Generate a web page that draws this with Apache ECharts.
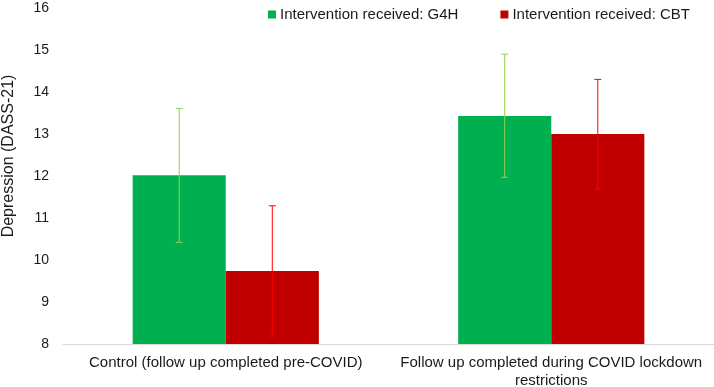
<!DOCTYPE html>
<html><head><meta charset="utf-8">
<script src="https://cdn.jsdelivr.net/npm/echarts@6/dist/echarts.min.js"></script>
<style>html,body{margin:0;padding:0;background:#fff}#c{width:714px;height:387px}</style>
</head><body><div id="c"></div>
<script>
const categories = ['Control (follow up completed pre-COVID)', 'Follow up completed during COVID lockdown\nrestrictions'];
const seriesNames = ['Intervention received: G4H', 'Intervention received: CBT'];
const g4hMean = [12.02, 13.43];
const g4hLow = [10.42, 11.97];
const g4hHigh = [13.61, 14.90];
const cbtMean = [9.74, 13.00];
const cbtLow = [8.19, 11.69];
const cbtHigh = [11.29, 14.30];
const yTicks = [8, 9, 10, 11, 12, 13, 14, 15, 16];

const BAR_FRAC = 0.286;
function errRender(side, color) {
  return function (params, api) {
    const idx = api.value(0);
    const lo = api.coord([idx, api.value(1)]);
    const hi = api.coord([idx, api.value(2)]);
    const cw = api.size([1, 0])[0];
    const x = lo[0] + side * cw * BAR_FRAC / 2;
    const cap = 3.5;
    const st = { stroke: color, lineWidth: 1 };
    return { type: 'group', children: [
      { type: 'line', shape: { x1: x, y1: lo[1], x2: x, y2: hi[1] }, style: st },
      { type: 'line', shape: { x1: x - cap, y1: lo[1], x2: x + cap, y2: lo[1] }, style: st },
      { type: 'line', shape: { x1: x - cap, y1: hi[1], x2: x + cap, y2: hi[1] }, style: st }
    ]};
  };
}

const chart = echarts.init(document.getElementById('c'));
chart.setOption({
  animation: false,
  textStyle: { fontFamily: 'Liberation Sans, Arial, sans-serif' },
  legend: {
    data: seriesNames, top: 2, left: 263, itemWidth: 8, itemHeight: 8, itemGap: 42,
    icon: 'rect', textStyle: { fontSize: 15, color: '#1a1a1a', padding: [0, 0, 0, -1] }
  },
  grid: { left: 63, right: 0, top: 8, bottom: 43, outerBoundsMode: 'none', containLabel: false },
  xAxis: {
    type: 'category', data: categories,
    axisLine: { lineStyle: { color: '#d9d9d9' } }, axisTick: { show: false },
    axisLabel: { fontSize: 15, color: '#1a1a1a', margin: 10, lineHeight: 18, interval: 0 }
  },
  yAxis: {
    type: 'value', min: yTicks[0], max: yTicks[yTicks.length - 1], interval: 1,
    name: 'Depression (DASS-21)', nameLocation: 'middle', nameGap: 46, nameRotate: 90,
    nameTextStyle: { fontSize: 16, color: '#1a1a1a', padding: [0, 0, 0, 40] },
    axisLine: { show: false }, axisTick: { show: false }, splitLine: { show: false },
    axisLabel: { fontSize: 14, color: '#1a1a1a', margin: 14 }
  },
  series: [
    { name: seriesNames[0], type: 'bar', data: g4hMean, barWidth: (BAR_FRAC * 100) + '%', barGap: '0%', itemStyle: { color: '#00b050' } },
    { name: seriesNames[1], type: 'bar', data: cbtMean, barWidth: (BAR_FRAC * 100) + '%', barGap: '0%', itemStyle: { color: '#c00000' } },
    { type: 'custom', renderItem: errRender(-1, '#92d050'), data: categories.map((c, i) => [i, g4hLow[i], g4hHigh[i]]), z: 10, silent: true },
    { type: 'custom', renderItem: errRender(1, '#ff0000'), data: categories.map((c, i) => [i, cbtLow[i], cbtHigh[i]]), z: 10, silent: true }
  ]
});
</script></body></html>
